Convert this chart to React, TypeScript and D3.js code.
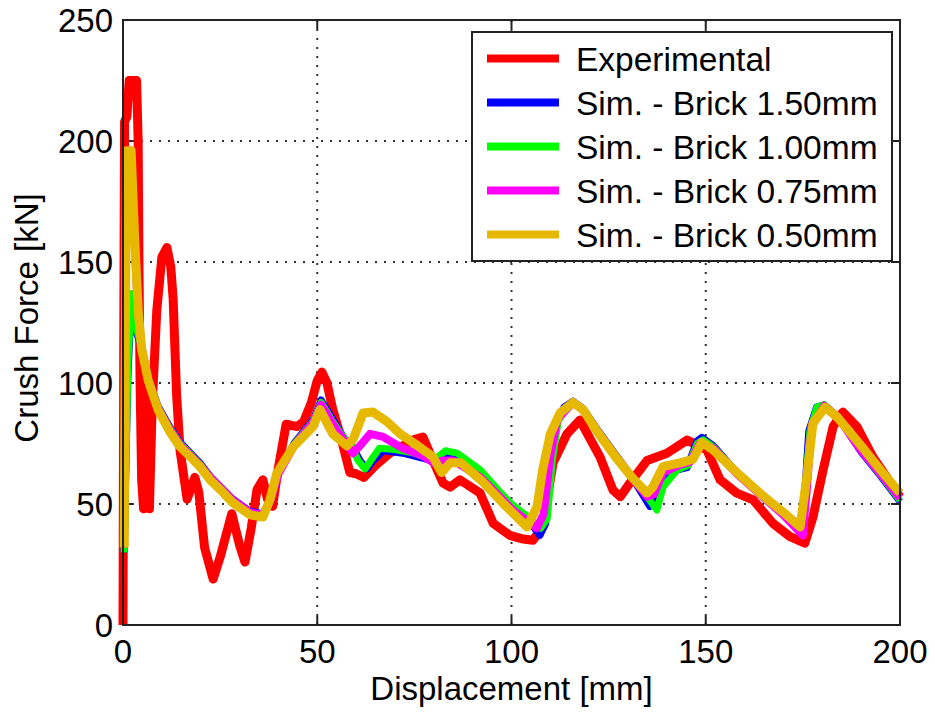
import React from 'react';
import * as d3 from 'd3';

const width = 935;
const height = 715;
const margin = { top: 20, right: 35, bottom: 90, left: 123 };

const xTicks = [0, 50, 100, 150, 200];
const yTicks = [0, 50, 100, 150, 200, 250];

const seriesNames = [
  'Experimental',
  'Sim. - Brick 1.50mm',
  'Sim. - Brick 1.00mm',
  'Sim. - Brick 0.75mm',
  'Sim. - Brick 0.50mm',
];
const seriesColors = ['#ff0000', '#0000ff', '#00ff00', '#ff00ff', '#e6b800'];

// [displacement mm, force kN]
const experimental: [number, number][] = [
  [0, 0], [0.2, 120], [0.4, 208], [1, 210], [1.6, 225], [3.5, 225], [3.9, 200], [4.1, 150],
  [4.4, 100], [4.8, 60], [5.3, 48], [5.8, 100], [6.3, 95], [6.8, 48], [7.5, 90], [8.7, 130],
  [10, 152], [11.3, 156], [12.3, 148], [12.9, 135], [13.8, 95], [14.7, 72], [16.5, 52],
  [18.5, 61], [19.5, 55], [21, 32], [23.2, 19], [25, 28], [28, 46], [30, 33], [31.4, 26],
  [33, 40], [34.5, 56], [36, 60], [37.2, 52], [38.5, 49], [40, 65], [42, 83], [44.8, 82],
  [46.5, 84], [48.5, 92], [50, 101], [51.2, 104.5], [52.5, 100], [54, 89], [56, 78],
  [58.4, 63], [60, 62.5], [62, 61], [65, 66], [68.7, 71], [72, 74], [74.7, 76.5], [77.2, 77.7],
  [79.8, 68], [82.4, 58.6], [84.2, 57], [86.7, 60], [91.9, 54.5], [95.3, 42], [99.6, 37],
  [103, 35.5], [105.5, 35], [108, 40.5], [110.7, 67], [114.3, 79], [117.6, 84.7],
  [122.8, 69.4], [126.1, 55.8], [128, 53], [130.5, 58.7], [134.9, 68], [140, 71],
  [145.2, 76.4], [150.3, 72.3], [153.7, 60], [158, 54.5], [162.2, 51.7], [167.3, 42],
  [171.7, 36.5], [175.5, 33.8], [177.6, 44.6], [180.2, 64], [182.8, 82], [185.3, 88],
  [188.9, 82], [193, 69.5], [200, 53],
];

const brick150: [number, number][] = [
  [0.3, 30], [1.2, 100], [2.0, 130], [2.8, 126], [3.6, 120], [4.8, 115], [6.5, 102], [9, 90.5],
  [12, 82], [14.7, 75.5], [19.8, 67], [22.4, 61.5], [28.3, 52], [32.7, 47], [36, 46], [38, 52],
  [40, 63], [44, 75], [49, 85], [51, 93], [54, 85], [57, 77], [59, 74], [61, 68], [62.8, 64.5],
  [64.5, 68], [67, 72], [72, 71], [77, 69], [80, 67.5], [82.5, 71], [86, 70], [92, 63],
  [97, 54], [100, 49], [104, 44], [107.3, 37], [108.8, 42], [110, 65], [111.7, 84],
  [113.5, 90], [115.8, 92.5], [118.4, 89.5], [122, 81], [127, 70], [131, 61], [135.6, 49],
  [137.5, 55], [140, 62], [142.6, 64], [145.2, 65], [147.7, 76], [149, 77.5], [152, 74],
  [158, 63], [165, 53], [170, 45.5], [174.5, 38], [175.5, 55], [176.5, 80], [178.5, 90],
  [180.5, 91], [184, 86], [190, 71.5], [195, 61.5], [200, 51],
];

const brick100: [number, number][] = [
  [0.3, 30], [1.3, 110], [2.3, 137], [3.0, 128], [3.7, 121], [4.8, 115], [6.5, 102], [9, 90],
  [12, 81.5], [14.7, 75], [19.8, 66.5], [22.4, 61], [28.3, 51.5], [32.7, 46.5], [36, 45.5],
  [38, 51.5], [40, 62.5], [44, 74.5], [49, 84.5], [51, 92], [54, 84], [57, 77], [58.5, 75],
  [60.5, 68], [62.3, 64.5], [64, 68.5], [66, 73], [70, 72.5], [75, 71], [80, 68], [83, 72],
  [86, 71], [92, 64], [97, 55], [100, 50], [104, 45], [107.5, 40], [109.2, 44], [110.5, 68],
  [112, 84], [114, 90], [115.8, 92], [118.4, 89.5], [122, 81], [127, 70], [131, 61],
  [134.5, 54], [137.4, 47.5], [139, 57], [142.6, 64], [145.5, 66], [147.8, 75], [149.3, 76.5],
  [152, 73.5], [158, 63], [165, 53], [170, 46], [174.5, 38.5], [175.7, 58], [176.8, 80],
  [178.6, 90], [180.5, 91], [184, 86], [190, 72], [195, 62], [200, 51.5],
];

const brick075: [number, number][] = [
  [0.3, 32], [0.9, 194], [2.0, 196], [2.9, 162], [3.8, 131], [4.8, 114.5], [6.5, 101.5],
  [9, 89.5], [12, 81], [14.7, 74.5], [19.8, 66], [22.4, 61], [28.3, 51.5], [32.7, 46.5],
  [36, 45.5], [38, 51.5], [40, 62.5], [44, 74], [49, 84], [51, 91], [54, 83], [57, 76],
  [59.2, 71], [61.5, 75], [63.6, 79], [67, 77.7], [72, 73], [77, 70], [80, 67], [82.5, 68],
  [85, 68], [92, 61], [97, 53], [100, 48], [104, 43], [106.5, 40], [108.3, 46], [110, 70],
  [111.8, 85], [115.8, 92], [118.4, 89], [122, 80.5], [127, 69.5], [131, 61], [134.9, 53],
  [136.7, 54], [139, 63], [143, 66], [146, 67.5], [148.5, 75], [152, 73], [158, 62.5],
  [165, 52.5], [170, 45.5], [175, 37], [176, 56], [177.2, 82], [180.5, 90.5], [184, 86],
  [190, 72], [195, 62.5], [200, 52.5],
];

const brick050: [number, number][] = [
  [0.3, 32], [0.9, 196], [2.1, 196], [3.0, 160], [3.9, 130], [4.8, 114], [6.5, 101], [9, 89],
  [12, 80], [14.7, 73.6], [17, 70], [19.8, 65.5], [22.4, 60], [25, 56], [28.3, 50.5],
  [32.7, 45.5], [36, 44.6], [37.8, 51.7], [39.6, 62.8], [43.8, 73.6], [48.9, 82], [50.7, 89],
  [54, 79], [57.6, 74], [59.3, 77], [61.8, 87.6], [64.3, 88], [68, 84], [71.3, 79], [75, 75],
  [79.8, 69.5], [82, 63], [84.2, 67], [87, 67], [92.7, 59], [98, 50], [104, 40.5],
  [106.6, 49], [108, 64], [110, 79], [112.5, 87.6], [115.8, 92], [118.4, 89], [122, 80],
  [127, 69], [131, 61], [134.9, 54.5], [136.4, 57], [139, 65.4], [143.4, 67], [146.7, 68.5],
  [149, 75.5], [151.9, 72.3], [158, 63], [165, 53], [170, 46.5], [174.3, 40.5], [176, 61],
  [177.6, 83.5], [180.7, 90], [183.8, 86], [190, 74], [195, 64], [200, 54.5],
];

const allSeries = [experimental, brick150, brick100, brick075, brick050];
const seriesWidths = [9, 7, 7, 8, 9];

const font = "'Liberation Sans', Arial, Helvetica, sans-serif";

export default function App() {
  const x = d3.scaleLinear().domain([0, 200]).range([margin.left, width - margin.right]);
  const y = d3.scaleLinear().domain([0, 250]).range([height - margin.bottom, margin.top]);
  const line = d3.line<[number, number]>().x(d => x(d[0])).y(d => y(d[1]));

  const x0 = x(0), x1 = x(200), y0 = y(0), y1 = y(250);
  const tickLen = 9;

  // legend
  const lg = { x: 472, y: 32, w: 420, h: 229 };
  const rowY = (i: number) => 58.5 + i * 44;

  return (
    <svg width={width} height={height} style={{ position: 'absolute', left: 0, top: 0, background: '#fff' }}
      fontFamily={font}>
      <rect width={width} height={height} fill="#fff" />
      {/* grid */}
      <g stroke="#333" strokeWidth={2} strokeDasharray="2 7">
        {xTicks.slice(1, -1).map(t => (
          <line key={'gx' + t} x1={x(t)} x2={x(t)} y1={y0} y2={y1} />
        ))}
        {yTicks.slice(1, -1).map(t => (
          <line key={'gy' + t} x1={x0} x2={x1} y1={y(t)} y2={y(t)} />
        ))}
      </g>
      {/* ticks */}
      <g stroke="#222" strokeWidth={2}>
        {xTicks.map(t => (
          <g key={'tx' + t}>
            <line x1={x(t)} x2={x(t)} y1={y0} y2={y0 - tickLen} />
            <line x1={x(t)} x2={x(t)} y1={y1} y2={y1 + tickLen} />
          </g>
        ))}
        {yTicks.map(t => (
          <g key={'ty' + t}>
            <line x1={x0} x2={x0 + tickLen} y1={y(t)} y2={y(t)} />
            <line x1={x1} x2={x1 - tickLen} y1={y(t)} y2={y(t)} />
          </g>
        ))}
      </g>
      {/* data */}
      <g fill="none" strokeLinejoin="round" strokeLinecap="butt">
        {allSeries.map((s, i) => (
          <path key={i} d={line(s) || ''} stroke={seriesColors[i]} strokeWidth={seriesWidths[i]} />
        ))}
      </g>
      {/* frame */}
      <rect x={x0} y={y1} width={x1 - x0} height={y0 - y1} fill="none" stroke="#222" strokeWidth={2} />
      {/* tick labels */}
      <g fontSize={33} fill="#000">
        {xTicks.map(t => (
          <text key={'lx' + t} x={x(t)} y={y0 + 38} textAnchor="middle">{t}</text>
        ))}
        {yTicks.map(t => (
          <text key={'ly' + t} x={x0 - 10} y={y(t) + 12} textAnchor="end">{t}</text>
        ))}
      </g>
      <text x={(x0 + x1) / 2} y={700} textAnchor="middle" fontSize={33}>Displacement [mm]</text>
      <text transform="translate(38,318) rotate(-90)" textAnchor="middle" fontSize={33}>Crush Force [kN]</text>
      {/* legend */}
      <rect x={lg.x} y={lg.y} width={lg.w} height={lg.h} fill="#fff" stroke="#222" strokeWidth={2} />
      {seriesNames.map((n, i) => (
        <g key={n}>
          <line x1={487} x2={559} y1={rowY(i)} y2={rowY(i)} stroke={seriesColors[i]} strokeWidth={8} />
          <text x={576} y={rowY(i) + 12.5} fontSize={33.5}>{n}</text>
        </g>
      ))}
    </svg>
  );
}
